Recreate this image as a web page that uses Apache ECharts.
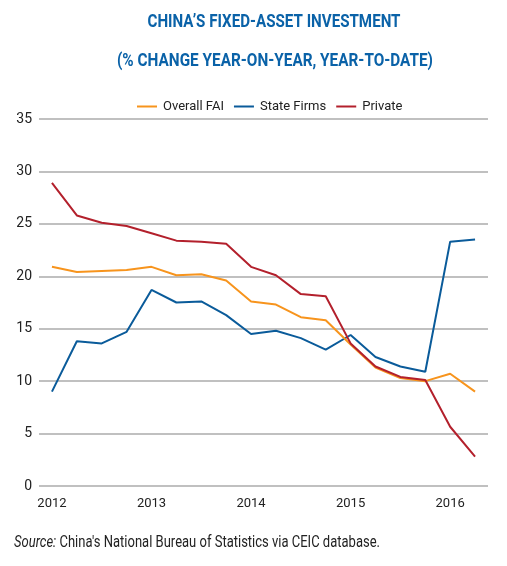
<!DOCTYPE html>
<html>
<head>
<meta charset="utf-8">
<script src="https://cdn.jsdelivr.net/npm/echarts@6/dist/echarts.min.js"></script>
<style>
  html, body { margin: 0; padding: 0; background: #fff; }
  #chartRoot { width: 507px; height: 566px; }
</style>
</head>
<body>
<div id="chartRoot"></div>
<script>
// quarterly points, 2012 Q1 .. 2016 Q2
const quarters = [
  2012, 2012.25, 2012.5, 2012.75, 2013, 2013.25, 2013.5, 2013.75, 2014,
  2014.25, 2014.5, 2014.75, 2015, 2015.25, 2015.5, 2015.75, 2016, 2016.25,
];
const overallFai = [
  20.9, 20.4, 20.5, 20.6, 20.9, 20.1, 20.2, 19.6, 17.6, 17.3, 16.1, 15.8,
  13.5, 11.3, 10.3, 10.0, 10.7, 9.0,
];
const stateFirms = [
  9.0, 13.8, 13.6, 14.7, 18.7, 17.5, 17.6, 16.3, 14.5, 14.8, 14.1, 13.0,
  14.4, 12.3, 11.4, 10.9, 23.3, 23.5,
];
const privateInv = [
  28.9, 25.8, 25.1, 24.8, 24.1, 23.4, 23.3, 23.1, 20.9, 20.1, 18.3, 18.1,
  13.6, 11.4, 10.4, 10.1, 5.65, 2.8,
];
const yearLabels = [2012, 2013, 2014, 2015, 2016];
const yTicks = [0, 35, 5]; // min, max, interval

const titleLines = [
  "CHINA’S FIXED-ASSET INVESTMENT",
  "(% CHANGE YEAR-ON-YEAR, YEAR-TO-DATE)",
];
const sourceLabel = "Source:";
const sourceText = " China's National Bureau of Statistics via CEIC database.";

const font = "Roboto, sans-serif";

// the original uses a condensed face; squeeze texts to the width they take there
const measureCtx = document.createElement("canvas").getContext("2d");
const textWidth = (txt, css) => {
  measureCtx.font = css;
  return measureCtx.measureText(txt).width;
};
const squeeze = (w, target) => Math.min(1, target / w);

const t1Scale = squeeze(textWidth(titleLines[0], "bold 18px Roboto"), 253);
const t2Scale = squeeze(textWidth(titleLines[1], "bold 18px Roboto"), 316);
const srcW =
  textWidth(sourceLabel, "italic 16px Roboto") + textWidth(sourceText, "16px Roboto");
const srcScale = squeeze(srcW, 366);

const toPairs = (ys) => ys.map((v, i) => [quarters[i], v]);

const chart = echarts.init(document.getElementById("chartRoot"));
const option = {
  animation: false,
  textStyle: { fontFamily: font },
  legend: {
    top: 95,
    left: 132,
    itemWidth: 20,
    itemHeight: 2,
    itemGap: 10,
    icon: "rect",
    textStyle: { fontSize: 13, color: "#222", fontFamily: font, padding: [0, 0, 0, 1] },
    data: ["Overall FAI", "State Firms", "Private"],
  },
  grid: { left: 39, right: 19, top: 119, bottom: 80 },
  xAxis: {
    type: "value",
    min: 2011.87,
    max: 2016.38,
    axisLine: { show: false },
    axisTick: { show: false },
    splitLine: { show: false },
    axisLabel: {
      customValues: yearLabels,
      color: "#222",
      fontSize: 13,
      fontFamily: font,
      margin: 11,
      formatter: (v) => String(v),
    },
  },
  yAxis: {
    type: "value",
    min: yTicks[0],
    max: yTicks[1],
    interval: yTicks[2],
    axisLine: { show: false },
    axisTick: { show: false },
    axisLabel: { color: "#222", fontSize: 14, fontFamily: font, margin: 7 },
    splitLine: { lineStyle: { color: "#ababab", width: 1.5 } },
  },
  series: [
    {
      name: "Overall FAI",
      type: "line",
      data: toPairs(overallFai),
      showSymbol: false,
      lineStyle: { color: "#f7941d", width: 2 },
      itemStyle: { color: "#f7941d" },
      z: 3,
    },
    {
      name: "State Firms",
      type: "line",
      data: toPairs(stateFirms),
      showSymbol: false,
      lineStyle: { color: "#0a5b9a", width: 2 },
      itemStyle: { color: "#0a5b9a" },
      z: 2,
    },
    {
      name: "Private",
      type: "line",
      data: toPairs(privateInv),
      showSymbol: false,
      lineStyle: { color: "#b3202c", width: 2 },
      itemStyle: { color: "#b3202c" },
      z: 4,
    },
  ],
  graphic: [
    {
      type: "text",
      x: 274,
      y: 22,
      scaleX: t1Scale,
      style: {
        text: titleLines[0],
        align: "center",
        verticalAlign: "middle",
        font: "bold 18px Roboto",
        fill: "#0a62a8",
      },
    },
    {
      type: "text",
      x: 275,
      y: 61,
      scaleX: t2Scale,
      style: {
        text: titleLines[1],
        align: "center",
        verticalAlign: "middle",
        font: "bold 18px Roboto",
        fill: "#0a62a8",
      },
    },
    {
      type: "text",
      x: 14,
      y: 543,
      scaleX: srcScale,
      style: {
        text: "{i|" + sourceLabel + "}" + sourceText,
        verticalAlign: "middle",
        rich: {
          i: { fontStyle: "italic", fontSize: 16, fontFamily: "Roboto", fill: "#222" },
        },
        fontSize: 16,
        fontFamily: "Roboto",
        fill: "#222",
      },
    },
  ],
};
chart.setOption(option);
</script>
</body>
</html>
